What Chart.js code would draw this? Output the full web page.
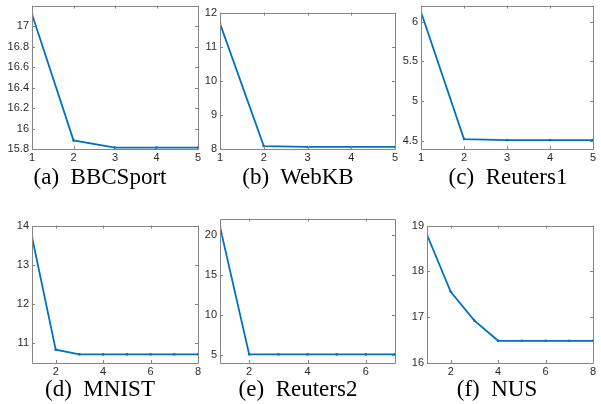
<!DOCTYPE html>
<html lang="en">
<head>
    <meta charset="UTF-8">
    <title>Objective value vs. iterations</title>
    <script src="https://cdn.jsdelivr.net/npm/chart.js"></script>
    <style>
        body {
            margin: 0;
            background: white;
            width: 601px;
            height: 404px;
            position: relative;
            overflow: hidden;
        }
        canvas {
            position: absolute;
        }
        .cap {
            position: absolute;
            font-family: "Liberation Serif", "Times New Roman", serif;
            font-size: 23px;
            line-height: 23px;
            color: black;
            white-space: pre;
            transform: translateX(-50%);
        }
    </style>
</head>
<body>
    <canvas id="a"></canvas>
    <canvas id="b"></canvas>
    <canvas id="c"></canvas>
    <canvas id="d"></canvas>
    <canvas id="e"></canvas>
    <canvas id="f"></canvas>

    <div class="cap" style="left:100px; top:165px">(a)  BBCSport</div>
    <div class="cap" style="left:298px; top:165px">(b)  WebKB</div>
    <div class="cap" style="left:508px; top:165px">(c)  Reuters1</div>
    <div class="cap" style="left:100px; top:377px">(d)  MNIST</div>
    <div class="cap" style="left:298px; top:377px">(e)  Reuters2</div>
    <div class="cap" style="left:497px; top:377px">(f)  NUS</div>

    <script>
        // iterations
        const iters5 = [1, 2, 3, 4, 5];
        const iters7 = [1, 2, 3, 4, 5, 6, 7];
        const iters8 = [1, 2, 3, 4, 5, 6, 7, 8];

        // objective values
        const bbcsport = [17.116, 15.884, 15.813, 15.813, 15.813];
        const webkb = [11.68, 8.087, 8.06, 8.06, 8.06];
        const reuters1 = [6.12, 4.525, 4.512, 4.512, 4.512];
        const mnist = [13.71, 10.84, 10.72, 10.72, 10.72, 10.72, 10.72, 10.72];
        const reuters2 = [20.98, 5.08, 5.08, 5.08, 5.08, 5.08, 5.08];
        const nus = [18.8, 17.556, 16.925, 16.485, 16.485, 16.485, 16.485, 16.485];

        // tick labels
        const xTicks5 = [1, 2, 3, 4, 5];
        const xTicks7 = [2, 4, 6];
        const xTicks8 = [2, 4, 6, 8];
        const yTicksA = [15.8, 16, 16.2, 16.4, 16.6, 16.8, 17];
        const yTicksB = [8, 9, 10, 11, 12];
        const yTicksC = [4.5, 5, 5.5, 6];
        const yTicksD = [11, 12, 13, 14];
        const yTicksE = [5, 10, 15, 20];
        const yTicksF = [16, 17, 18, 19];

        const Y_W = 32, PAD_T = 8, PAD_R = 8, X_H = 16;
        const blue = '#0072BD';
        const axisColor = '#858585';

        // box with inward ticks on all four sides (matlab style)
        const boxTicks = {
            id: 'boxTicks',
            afterDatasetsDraw(chart) {
                const { ctx, chartArea: ca, scales } = chart;
                const len = 3;
                ctx.save();
                ctx.strokeStyle = axisColor;
                ctx.lineWidth = 1;
                ctx.beginPath();
                ctx.rect(Math.round(ca.left) + 0.5, Math.round(ca.top) + 0.5,
                    Math.round(ca.right - ca.left), Math.round(ca.bottom - ca.top));
                scales.x.ticks.forEach(t => {
                    const px = Math.round(scales.x.getPixelForValue(t.value)) + 0.5;
                    ctx.moveTo(px, ca.bottom); ctx.lineTo(px, ca.bottom - len);
                    ctx.moveTo(px, ca.top); ctx.lineTo(px, ca.top + len);
                });
                scales.y.ticks.forEach(t => {
                    const py = Math.round(scales.y.getPixelForValue(t.value)) + 0.5;
                    ctx.moveTo(ca.left, py); ctx.lineTo(ca.left + len, py);
                    ctx.moveTo(ca.right, py); ctx.lineTo(ca.right - len, py);
                });
                ctx.stroke();
                ctx.restore();
            }
        };

        // matlab drops trailing zeros: 17 not 17.0
        const fmt = v => String(Math.round(v * 100) / 100);

        function drawPanel(id, box, xs, ys, xRange, xTicks, yRange, yTicks) {
            const cv = document.getElementById(id);
            const w = (box.r - box.l) + Y_W + PAD_R;
            const h = (box.b - box.t) + PAD_T + X_H;
            cv.width = w;
            cv.height = h;
            cv.style.left = (box.l - Y_W) + 'px';
            cv.style.top = (box.t - PAD_T) + 'px';

            const tickFont = { family: '"Liberation Sans", Arial, sans-serif', size: 11 };

            new Chart(cv.getContext('2d'), {
                type: 'line',
                data: {
                    datasets: [{
                        data: xs.map((x, i) => ({ x: x, y: ys[i] })),
                        borderColor: blue,
                        borderWidth: 1.8,
                        pointRadius: 1.3,
                        pointBackgroundColor: blue,
                        pointBorderWidth: 0,
                        tension: 0
                    }]
                },
                options: {
                    responsive: false,
                    animation: false,
                    devicePixelRatio: 1,
                    layout: { padding: { top: PAD_T, right: PAD_R, left: 0, bottom: 0 } },
                    plugins: { legend: { display: false }, tooltip: { enabled: false } },
                    scales: {
                        x: {
                            type: 'linear',
                            min: xRange[0],
                            max: xRange[1],
                            afterBuildTicks: s => { s.ticks = xTicks.map(v => ({ value: v })); },
                            afterFit: s => { s.height = X_H; },
                            grid: { display: false, drawTicks: false },
                            border: { display: false },
                            ticks: { font: tickFont, color: '#2b2b2b', padding: 2, maxRotation: 0, callback: fmt }
                        },
                        y: {
                            min: yRange[0],
                            max: yRange[1],
                            afterBuildTicks: s => { s.ticks = yTicks.map(v => ({ value: v })); },
                            afterFit: s => { s.width = Y_W; },
                            grid: { display: false, drawTicks: false },
                            border: { display: false },
                            ticks: { font: tickFont, color: '#2b2b2b', padding: 3, callback: fmt }
                        }
                    }
                },
                plugins: [boxTicks]
            });
        }

        drawPanel('a', { l: 32, t: 4, r: 198, b: 149 }, iters5, bbcsport, [1, 5], xTicks5, [15.8, 17.2], yTicksA);
        drawPanel('b', { l: 220, t: 11, r: 395, b: 149 }, iters5, webkb, [1, 5], xTicks5, [8, 12], yTicksB);
        drawPanel('c', { l: 421, t: 4, r: 593, b: 149 }, iters5, reuters1, [1, 5], xTicks5, [4.4, 6.2], yTicksC);
        drawPanel('d', { l: 32, t: 224, r: 198, b: 363 }, iters8, mnist, [1, 8], xTicks8, [10.5, 14], yTicksD);
        drawPanel('e', { l: 220, t: 217, r: 395, b: 363 }, iters7, reuters2, [1, 7], xTicks7, [4, 22], yTicksE);
        drawPanel('f', { l: 427, t: 224, r: 593, b: 363 }, iters8, nus, [1, 8], xTicks8, [16, 19], yTicksF);
    </script>
</body>
</html>
